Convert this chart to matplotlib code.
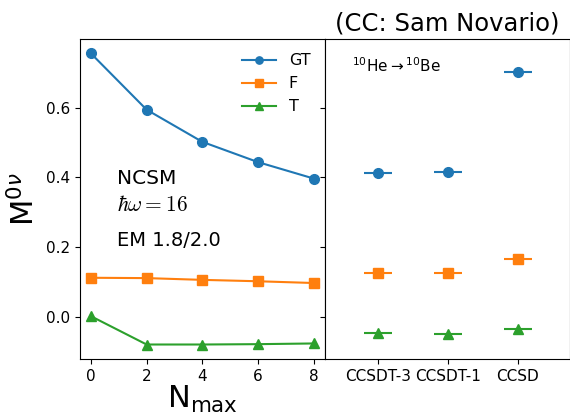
import matplotlib as mpl
mpl.use('Agg')
import matplotlib.pyplot as plt
import numpy as np

mpl.rcParams['mathtext.fontset'] = 'dejavusans'
mpl.rcParams['xtick.labelsize'] = 11
mpl.rcParams['ytick.labelsize'] = 11

# NCSM results vs. model space
nmax = [0, 2, 4, 6, 8]
gt_ncsm = [0.755, 0.594, 0.502, 0.444, 0.397]
f_ncsm = [0.113, 0.112, 0.107, 0.103, 0.098]
t_ncsm = [0.003, -0.078, -0.078, -0.077, -0.075]

# coupled-cluster results
cc_methods = ['CCSDT-3', 'CCSDT-1', 'CCSD']
gt_cc = [0.413, 0.416, 0.702]
f_cc = [0.126, 0.126, 0.167]
t_cc = [-0.046, -0.047, -0.034]

labels = ['GT', 'F', 'T']
markers = ['o', 's', '^']
colors = ['C0', 'C1', 'C2']

fig, (ax1, ax2) = plt.subplots(1, 2, sharey=True, figsize=(5.7, 4.18), dpi=100)
fig.subplots_adjust(left=0.14, right=0.9995, top=0.907, bottom=0.141, wspace=0)

for vals, lab, m, c in zip([gt_ncsm, f_ncsm, t_ncsm], labels, markers, colors):
    ax1.plot(nmax, vals, marker=m, color=c, label=lab, markersize=7)
ax1.legend(loc='upper right', frameon=False, fontsize=11.5, markerscale=0.75,
           handlelength=2.1)
ax1.set_xticks(nmax)
ax1.set_xlabel(r'N$_{\rm max}$', fontsize=22, labelpad=0)
ax1.set_ylabel(r'M$^{0\nu}$', fontsize=22)
ax1.set_yticks([0.0, 0.2, 0.4, 0.6])

ax1.text(0.151, 0.5625, 'NCSM', transform=ax1.transAxes, fontsize=14.5, va='center')
ax1.text(0.151, 0.48, r'$\hbar\omega=16$', transform=ax1.transAxes, fontsize=15.5,
         va='center', math_fontfamily='cm')
ax1.text(0.151, 0.369, 'EM 1.8/2.0', transform=ax1.transAxes, fontsize=14, va='center')

xc = np.arange(len(cc_methods))
for vals, m, c in zip([gt_cc, f_cc, t_cc], markers, colors):
    ax2.errorbar(xc, vals, xerr=0.2, fmt=m, color=c, markersize=7, linewidth=1.5)
ax2.set_xticks(xc)
ax2.set_xticklabels(cc_methods)
ax2.set_xlim(-0.76, 2.74)
ax2.tick_params(axis='y', labelleft=False)
ax2.text(0.11, 0.916, r'$^{10}$He$\rightarrow$$^{10}$Be', transform=ax2.transAxes,
         fontsize=11, va='center')
ax2.set_title('(CC: Sam Novario)', fontsize=17.5)

fig.savefig('out.png')
